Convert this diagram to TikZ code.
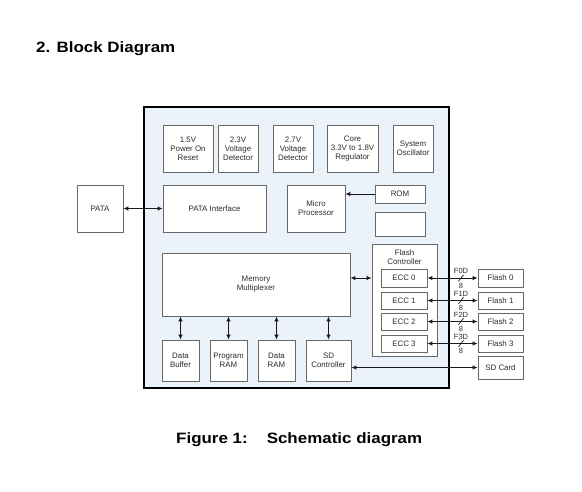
\documentclass[tikz,border=0pt]{standalone}
\usepackage{fontspec}
\setmainfont{Liberation Sans}
\newfontfamily\titlefont[FakeStretch=1.13]{Liberation Sans}
\usetikzlibrary{arrows.meta}
\definecolor{boxgray}{RGB}{105,105,105}
\definecolor{txtgray}{RGB}{45,45,45}
\definecolor{arrgray}{RGB}{25,25,25}
\definecolor{panel}{RGB}{236,242,250}
\tikzset{
  blk/.style={draw=boxgray, fill=white, line width=0.7pt, inner sep=0pt, align=center,
    font=\fontsize{7.9}{9}\selectfont, text=txtgray},
  outerbox/.style={draw=black, fill=panel, line width=1.4pt, inner sep=0pt},
  tip/.tip={Latex[length=5pt,width=4.4pt]},
  dbl/.style={tip-tip, line width=1pt, draw=arrgray},
  sgl/.style={-tip, line width=1pt, draw=arrgray},
  buslab/.style={font=\fontsize{7.5}{8}\selectfont, text=txtgray, inner sep=0pt},
  heading/.style={font=\titlefont\bfseries\fontsize{15}{18}\selectfont, inner sep=0pt, anchor=base west},
}
\newcommand\mybox[7][]{\node[blk,#1,minimum width={(#5-#3)*1pt},minimum height={(#6-#4)*1pt}] (#2) at ({(#3+#5)/2},{(#4+#6)/2}) {#7};}
\begin{document}
\begin{tikzpicture}[x=1pt,y=-1pt]
\useasboundingbox[fill=white] (0,0) rectangle (582,491);
% headings
\node[heading] (title) at (36,52.3) {2. Block Diagram};
\node[heading] (caption) at (176,443) {Figure 1:\hspace{19pt}Schematic diagram};
% outer panel
\mybox[outerbox]{outer}{144}{107}{449}{388}{}
% top row
\mybox{p15}{163}{125}{213}{172}{1.5V\\Power On\\Reset}
\mybox{v23}{218}{125}{258}{172}{2.3V\\Voltage\\Detector}
\mybox{v27}{273}{125}{313}{172}{2.7V\\Voltage\\Detector}
\mybox{core}{327}{125}{378}{172}{Core\\3.3V to 1.8V\\Regulator}
\mybox{osc}{393}{125}{433}{172}{System\\Oscillator}
% second row
\mybox{pata}{77}{185}{123}{232}{PATA}
\mybox{pif}{163}{185}{266}{232}{PATA Interface}
\mybox{micro}{287}{185}{345}{232}{Micro\\Processor}
\mybox{rom}{375}{185}{425}{203}{ROM}
\mybox{hid}{375}{212}{425}{236}{}
% flash controller
\mybox[label={[blk,draw=none,fill=none,anchor=north,yshift=-6pt]north:Flash\\Controller}]{fc}{372}{244}{437}{356}{}
\mybox{ecc0}{381}{269}{427}{287}{ECC 0}
\mybox{ecc1}{381}{292}{427}{309}{ECC 1}
\mybox{ecc2}{381}{313}{427}{330}{ECC 2}
\mybox{ecc3}{381}{335}{427}{352}{ECC 3}
% memory
\mybox{mem}{162}{253}{350}{316}{Memory\\Multiplexer}
\mybox{dbuf}{162}{340}{199}{381}{Data\\Buffer}
\mybox{pram}{210}{340}{247}{381}{Program\\RAM}
\mybox{dram}{258}{340}{295}{381}{Data\\RAM}
\mybox{sdc}{306}{340}{351}{381}{SD\\Controller}
% external
\mybox{fl0}{478}{269}{523}{287}{Flash 0}
\mybox{fl1}{478}{292}{523}{309}{Flash 1}
\mybox{fl2}{478}{313}{523}{330}{Flash 2}
\mybox{fl3}{478}{335}{523}{352}{Flash 3}
\mybox{sdcard}{478}{356}{523}{379}{SD Card}
% connectors
\draw[dbl] (pata.east) -- (pif.west);
\draw[sgl] (rom.west) -- (micro.east |- rom.west);
\draw[dbl] (mem.east |- ecc0.east) -- (fc.west |- ecc0.east);
\foreach \b in {dbuf,pram,dram,sdc}{
  \draw[dbl] (mem.south -| \b.north) -- (\b.north);
}
\draw[dbl] (sdc.east |- sdcard.west) -- (sdcard.west);
\foreach \i in {0,1,2,3}{
  \draw[dbl] (ecc\i.east) -- (fl\i.west);
  \coordinate (s\i) at (461,0 |- ecc\i.east);
  \draw[line width=0.7pt, draw=arrgray] ([shift={(-2.5,3.2)}]s\i) -- ([shift={(2.5,-3.2)}]s\i);
  \node[buslab] (f\i) at ([yshift=7pt]s\i) {F\i D};
  \node[buslab] (w\i) at ([yshift=-7.5pt]s\i) {8};
}
\end{tikzpicture}
\end{document}
